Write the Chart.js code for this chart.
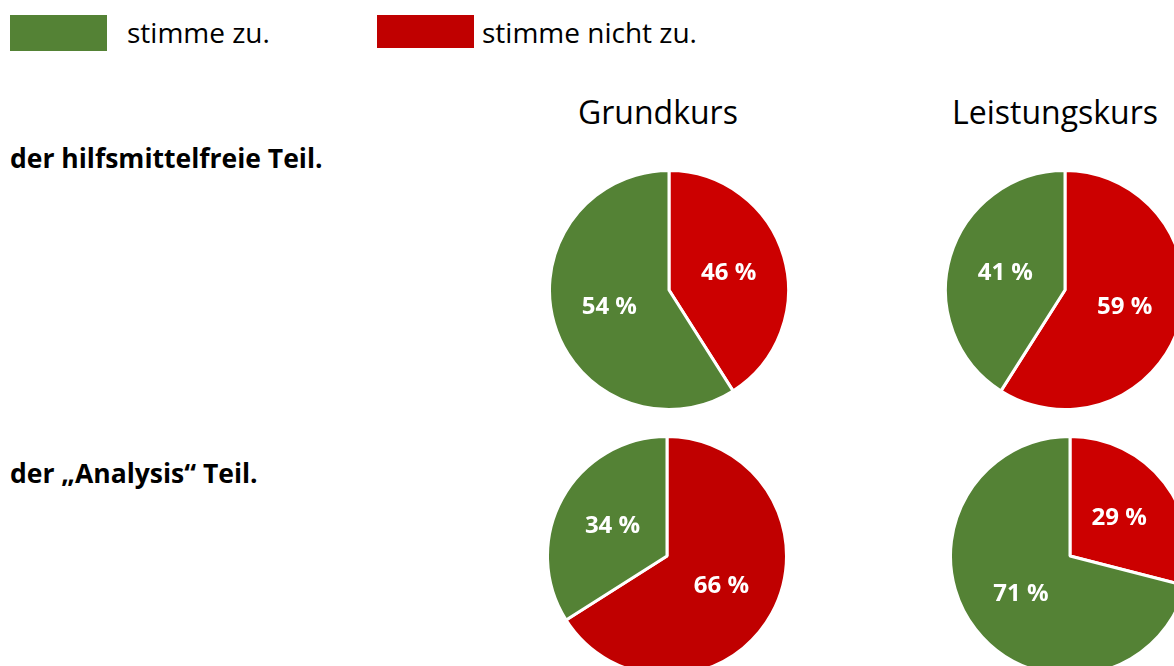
<!DOCTYPE html>
<html>
<head>
<meta charset="utf-8">
<script src="https://cdn.jsdelivr.net/npm/chart.js@4/dist/chart.umd.min.js"></script>
<style>
  html, body { margin: 0; padding: 0; background: #fff; overflow: hidden; width: 1174px; height: 666px; }
  body { position: relative; font-family: "Open Sans", sans-serif; color: #000; }
  .txt { position: absolute; white-space: nowrap; line-height: 1; }
  .swatch { position: absolute; }
  .pie { position: absolute; width: 242px; height: 242px; }
</style>
</head>
<body>

<div class="swatch" style="left:10px;top:15px;width:97px;height:36px;background:#548235"></div>
<div class="txt" id="lgAgree" style="left:127px;top:18px;font-size:28px"></div>
<div class="swatch" style="left:377px;top:15px;width:97px;height:33px;background:#C00000"></div>
<div class="txt" id="lgDisagree" style="left:482px;top:18px;font-size:28px"></div>

<div class="txt" id="colTitle0" style="left:578px;top:96px;font-size:32px"></div>
<div class="txt" id="colTitle1" style="left:952px;top:96px;font-size:32px"></div>

<div class="txt" id="rowLabel0" style="left:10px;top:145px;font-size:26.5px;font-weight:bold"></div>
<div class="txt" id="rowLabel1" style="left:10px;top:460px;font-size:26.5px;font-weight:bold"></div>

<div class="pie" style="left:548px;top:169px"><canvas id="pie_0_0"></canvas></div>
<div class="pie" style="left:944px;top:169px"><canvas id="pie_0_1"></canvas></div>
<div class="pie" style="left:546px;top:435px"><canvas id="pie_1_0"></canvas></div>
<div class="pie" style="left:949px;top:435px"><canvas id="pie_1_1"></canvas></div>

<script>
// legend / answer categories
var answers = ['stimme nicht zu.', 'stimme zu.'];
var courses = ['Grundkurs', 'Leistungskurs'];
var questions = ['der hilfsmittelfreie Teil.', 'der \u201EAnalysis\u201C Teil.'];

// printed percentages [stimme nicht zu., stimme zu.]
var grundkursHilfsmittelfrei = [46, 54];
var leistungskursHilfsmittelfrei = [59, 41];
var grundkursAnalysis = [66, 34];
var leistungskursAnalysis = [29, 71];

// slice sizes as drawn (top-left pie is drawn about 41 / 59, not as printed)
var grundkursHilfsmittelfreiSlices = [41, 59];

var green = '#548235';
var redShades = ['#CC0000', '#CC0000', '#C00000', '#CC0000'];

document.getElementById('lgAgree').textContent = answers[1];
document.getElementById('lgDisagree').textContent = answers[0];
document.getElementById('colTitle0').textContent = courses[0];
document.getElementById('colTitle1').textContent = courses[1];
document.getElementById('rowLabel0').textContent = questions[0];
document.getElementById('rowLabel1').textContent = questions[1];

var sliceLabels = {
    id: 'sliceLabels',
    afterDatasetsDraw: function(chart, args, options) {
        var ctx = chart.ctx;
        var meta = chart.getDatasetMeta(0);
        var texts = options.texts;
        ctx.save();
        ctx.fillStyle = '#ffffff';
        ctx.font = 'bold 24px "Open Sans"';
        ctx.textAlign = 'center';
        ctx.textBaseline = 'middle';
        meta.data.forEach(function(arc, i) {
            var p = arc.getProps(['x', 'y', 'startAngle', 'endAngle', 'outerRadius'], true);
            var mid = (p.startAngle + p.endAngle) / 2;
            var r = p.outerRadius * 0.52;
            ctx.fillText(texts[i] + ' %', p.x + Math.cos(mid) * r, p.y + Math.sin(mid) * r);
        });
        ctx.restore();
    }
};

function makePie(id, slices, printed, red) {
    return new Chart(document.getElementById(id), {
        type: 'pie',
        data: {
            labels: answers,
            datasets: [{
                data: slices,
                backgroundColor: [red, green],
                borderColor: '#ffffff',
                borderWidth: 3,
                hoverOffset: 0
            }]
        },
        options: {
            animation: false,
            responsive: true,
            maintainAspectRatio: false,
            layout: { padding: 0 },
            plugins: {
                legend: { display: false },
                tooltip: { enabled: false },
                sliceLabels: { texts: printed }
            }
        },
        plugins: [sliceLabels]
    });
}

makePie('pie_0_0', grundkursHilfsmittelfreiSlices, grundkursHilfsmittelfrei, redShades[0]);
makePie('pie_0_1', leistungskursHilfsmittelfrei, leistungskursHilfsmittelfrei, redShades[1]);
makePie('pie_1_0', grundkursAnalysis, grundkursAnalysis, redShades[2]);
makePie('pie_1_1', leistungskursAnalysis, leistungskursAnalysis, redShades[3]);
</script>
</body>
</html>
